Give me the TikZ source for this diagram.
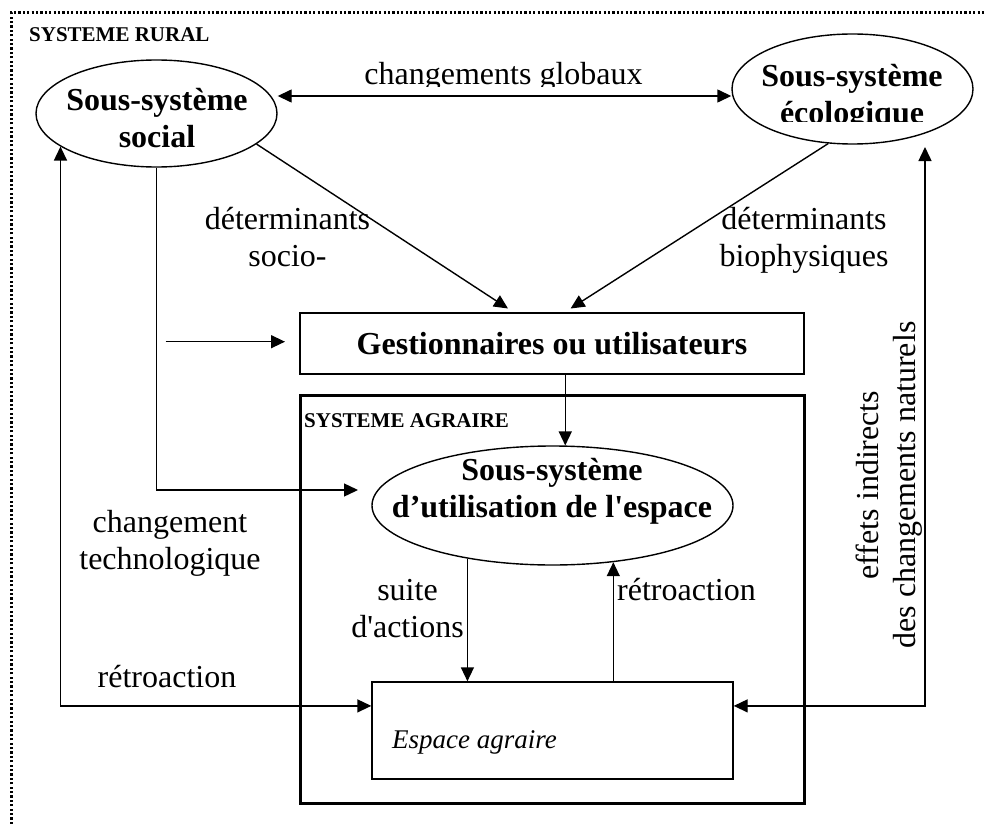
\documentclass[tikz,border=0pt]{standalone}
\usepackage{fontspec}
\setmainfont{Liberation Serif}[Ligatures=TeXOff]
\usetikzlibrary{arrows.meta,shapes.geometric,calc}
\begin{document}
\begin{tikzpicture}[x=1pt,y=-1pt,
  conn/.style={line width=1.4pt,-{Triangle[length=14pt,width=13pt]}},
  conn2/.style={line width=1.4pt,{Triangle[length=14pt,width=13pt]}-{Triangle[length=14pt,width=13pt]}},
  sub/.style={ellipse,draw,line width=1.4pt,inner sep=0pt},
  lbl/.style={font=\fontsize{32}{37}\selectfont,align=center,anchor=base,inner sep=0pt},
  blbl/.style={lbl,font=\fontsize{32}{37}\selectfont\bfseries},
  captitle/.style={font=\fontsize{21}{24}\selectfont\bfseries,anchor=base west,inner sep=0pt},
]
\useasboundingbox (0,0) rectangle (985,824);
% dotted frame of the rural system
\draw[line width=3pt,dash pattern=on 2.2pt off 2.2pt] (11,824) -- (11,13) -- (985,13);

% shapes
\node[sub,minimum width=241pt,minimum height=107pt] (social) at (156.5,113.5) {};
\node[sub,minimum width=241pt,minimum height=110pt] (eco) at (852.5,89) {};
\node[draw,line width=3pt,minimum width=504pt,minimum height=408pt,inner sep=0pt] (agraire) at (552,599) {};
\node[draw,line width=1.5pt,minimum width=504pt,minimum height=61pt,inner sep=0pt] (gest) at (552,343.5) {};
\node[sub,minimum width=361pt,minimum height=119pt] (usage) at (552.5,505.5) {};
\node[draw,line width=1.4pt,minimum width=361pt,minimum height=97pt,inner sep=0pt] (espace) at (552.5,730.5) {};

% texts (multi-line nodes: base = baseline of the last line)
\node[captitle] (rural) at (29,42) {SYSTEME RURAL};
\node[captitle] (agrtxt) at (304,427) {SYSTEME AGRAIRE};
\node[blbl] (socialtxt) at (157,148) {Sous-système\\social};
\begin{scope}
  \clip (700,0) rectangle (985,121.7);
  \node[blbl] (ecotxt) at (852,123.5) {Sous-système\\écologique};
\end{scope}
\node[blbl] (gesttxt) at (552,354) {Gestionnaires ou utilisateurs};
\node[blbl] (usagetxt) at (552,517) {Sous-système\\d’utilisation de l'espace};
\begin{scope}
  \clip (300,0) rectangle (700,86.5);
  \node[lbl] (glob) at (503.5,85) {changements globaux};
\end{scope}
\node[lbl] (detsoc) at (287.5,266) {déterminants\\socio-};
\node[lbl] (detbio) at (804,266) {déterminants\\biophysiques};
\node[lbl] (techno) at (170,569) {changement\\technologique};
\begin{scope}
  \clip (50,600) rectangle (290,688);
  \node[lbl] (retro1) at (167,687) {rétroaction};
\end{scope}
\node[lbl] (suite) at (407.5,637) {suite\\d'actions};
\node[lbl,anchor=base west] (retro2) at (617,600) {rétroaction};
\node[font=\fontsize{27}{32}\selectfont\itshape,anchor=base west,inner sep=0pt] (esptxt) at (392,748) {Espace agraire};
\node[lbl,rotate=90] (effets) at (915,485) {effets indirects\\des changements naturels};

% connectors
\draw[conn2] (social.east |- 0,96) -- (eco.west |- 0,96);
\coordinate (t1) at (508,308.5);
\coordinate (t2) at (570.6,308.5);
\draw[conn] (social.-17) -- (t1);
\draw[conn] (eco.-114) -- (t2);
\coordinate (s0) at (165.7,341.7);
\coordinate (s1) at (285,341.7);
\draw[conn] (s0) -- (s1);
\coordinate (u0) at (358,490);
\draw[conn] (social.south) |- (u0);
\draw[conn] (gest.south -| usage.78) -- (usage.78);
\draw[conn] (usage.-148) -- (usage.-148 |- espace.north);
\draw[conn] (espace.north -| usage.-43.4) -- (usage.-43.4);
\coordinate (eL) at ($(espace.north west)!0.25!(espace.south west)$);
\coordinate (eR) at ($(espace.north east)!0.25!(espace.south east)$);
\coordinate (ecotip) at (925,147);
\draw[conn2] (social.-161.6) |- (eL);
\draw[conn2] (ecotip) |- (eR);
\end{tikzpicture}
\end{document}
